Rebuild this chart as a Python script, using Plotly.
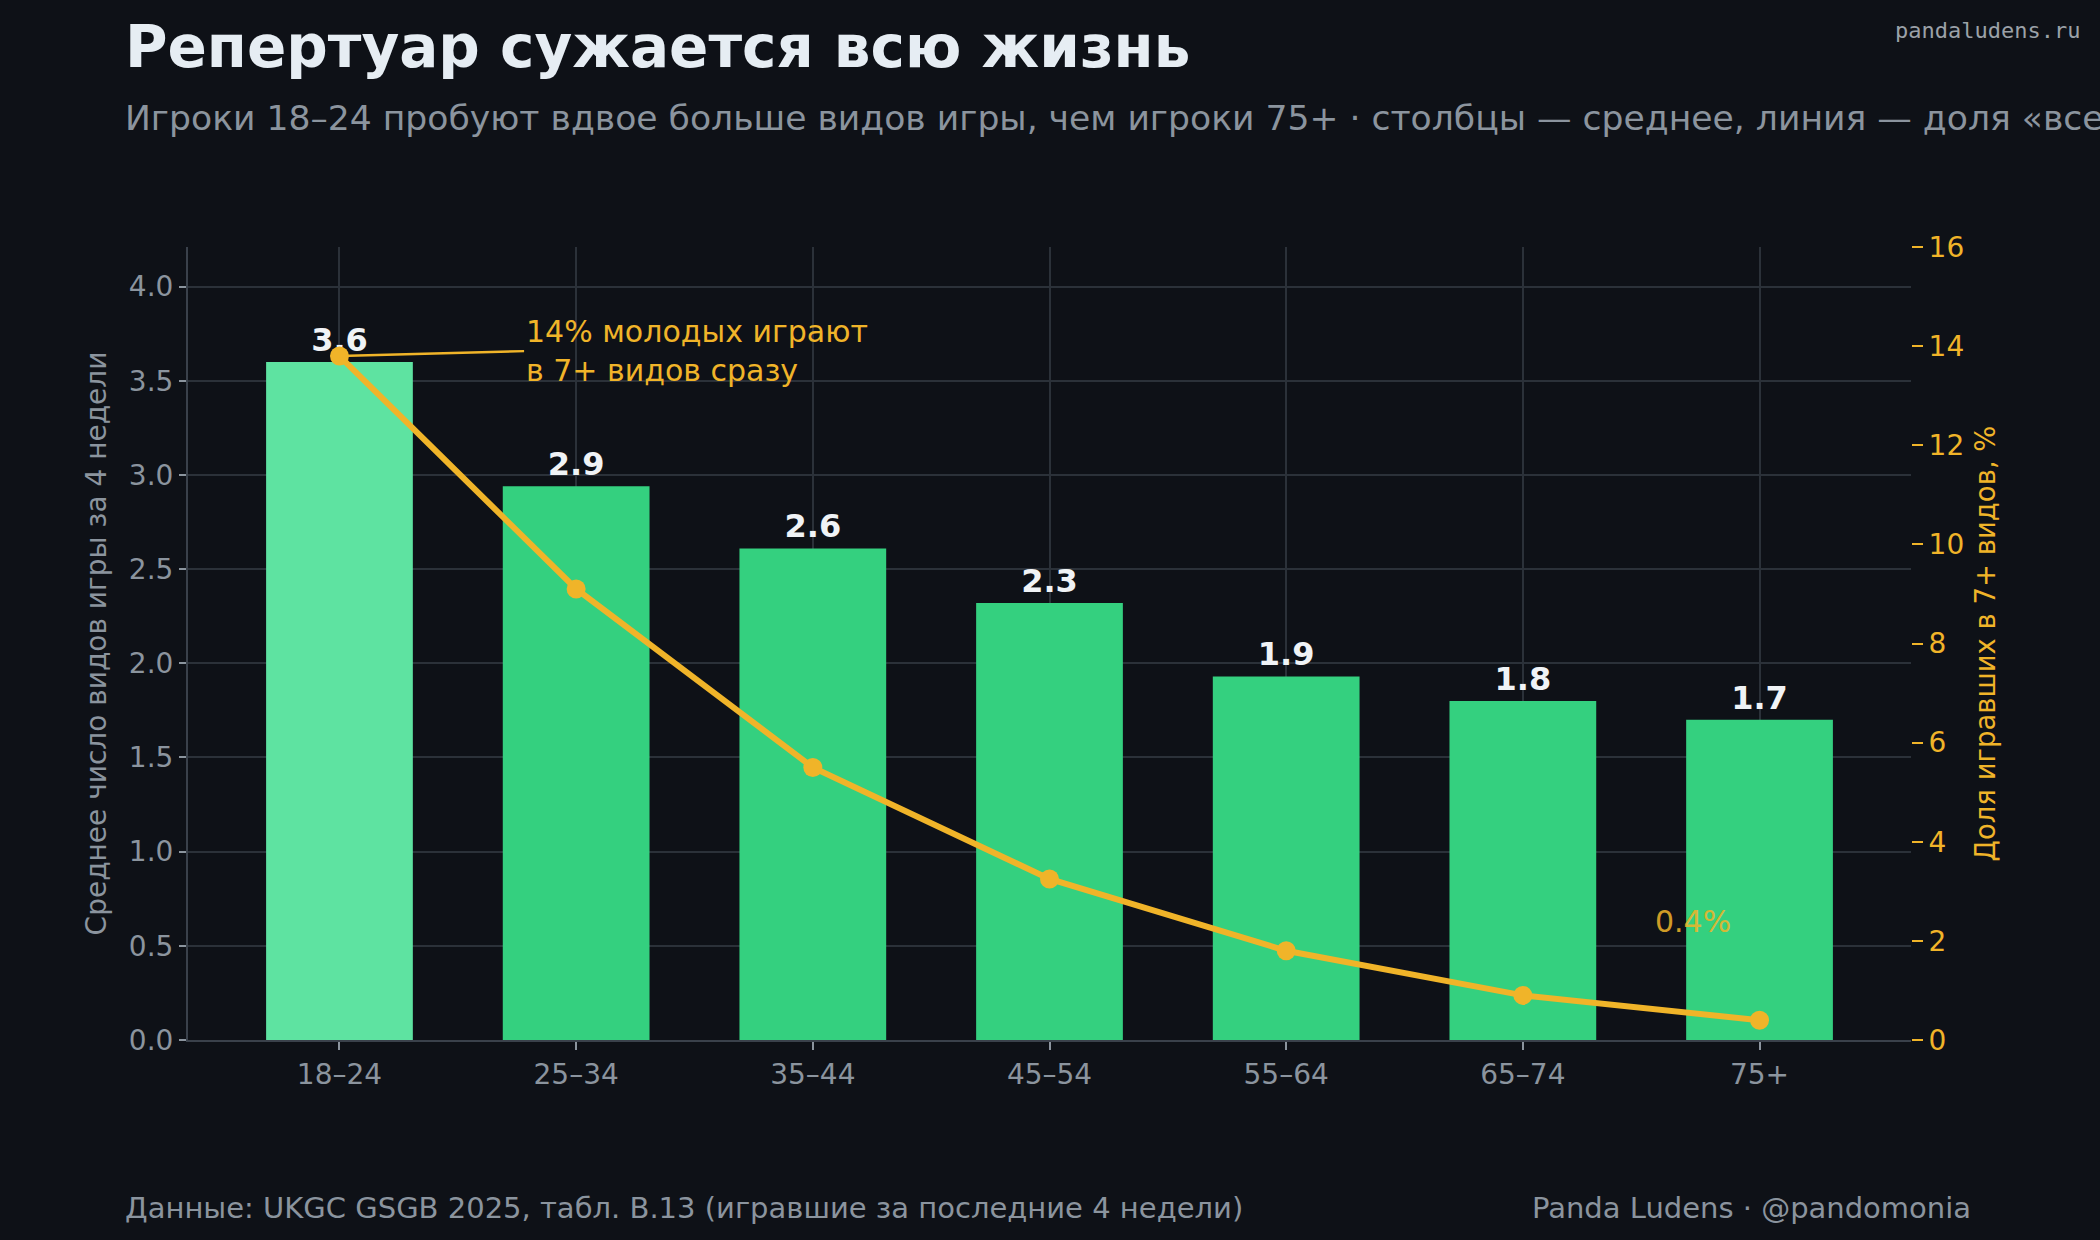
import plotly.graph_objects as go

# UKGC GSGB 2025, table B.13 — players in the last 4 weeks
age_groups = ["18–24", "25–34", "35–44", "45–54", "55–64", "65–74", "75+"]
avg_types = [3.60, 2.94, 2.61, 2.32, 1.93, 1.80, 1.70]
share_7plus = [13.8, 9.1, 5.5, 3.25, 1.8, 0.9, 0.4]

BG = "#0e1117"
GRID = "#2b3139"
AXIS = "#3a414b"
MUTED = "#8b949e"
GOLD = "#f0b429"
GREEN = "#34d07f"
GREEN_HI = "#5ee3a1"
FONT = "DejaVu Sans"

W, H = 2100, 1240
L, R, T, B = 188, 189, 247, 200


def px_x(px):
    return (px - L) / (W - L - R)


def px_y(py):
    return 1 - (py - T) / (H - T - B)


bar_colors = [GREEN_HI] + [GREEN] * (len(age_groups) - 1)

fig = go.Figure()

fig.add_trace(go.Bar(
    x=age_groups, y=avg_types,
    marker=dict(color=bar_colors, line=dict(width=0)),
    width=0.62,
    texttemplate="%{y:.1f}",
    textposition="outside",
    textfont=dict(family=FONT, size=32, color="#f0f3f6", weight="bold"),
    cliponaxis=False,
    showlegend=False,
    hoverinfo="skip",
))

fig.add_trace(go.Scatter(
    x=age_groups, y=share_7plus, yaxis="y2",
    mode="lines+markers",
    line=dict(color=GOLD, width=6),
    marker=dict(color=GOLD, size=19),
    cliponaxis=False,
    showlegend=False,
    hoverinfo="skip",
))

annotations = [
    dict(text="<b>Репертуар сужается всю жизнь</b>", x=px_x(123), y=px_y(47),
         xref="paper", yref="paper", xanchor="left", yanchor="middle", showarrow=False,
         font=dict(family=FONT, size=58, color="#e6edf3")),
    dict(text="Игроки 18–24 пробуют вдвое больше видов игры, чем игроки 75+ · "
              "столбцы — среднее, линия — доля «всеядных» (7+ видов)",
         x=px_x(123), y=px_y(118), xref="paper", yref="paper",
         xanchor="left", yanchor="middle", showarrow=False,
         font=dict(family=FONT, size=34.6, color=MUTED)),
    dict(text="pandaludens.ru", x=px_x(2082), y=px_y(30), xref="paper", yref="paper",
         xanchor="right", yanchor="middle", showarrow=False,
         font=dict(family="DejaVu Sans Mono", size=22, color="#9ba1a8")),
    dict(text="Данные: UKGC GSGB 2025, табл. B.13 (игравшие за последние 4 недели)",
         x=px_x(123), y=px_y(1208), xref="paper", yref="paper",
         xanchor="left", yanchor="middle", showarrow=False,
         font=dict(family=FONT, size=29, color=MUTED)),
    dict(text="Panda Ludens · @pandomonia", x=px_x(1973), y=px_y(1208),
         xref="paper", yref="paper", xanchor="right", yanchor="middle", showarrow=False,
         font=dict(family=FONT, size=29, color=MUTED)),
    # callout for the youngest group
    dict(text="14% молодых играют<br>в 7+ видов сразу",
         x=age_groups[0], y=share_7plus[0], xref="x", yref="y2",
         ax=0.78, ay=share_7plus[0] + 0.1, axref="x", ayref="y2",
         showarrow=True, arrowhead=0, arrowwidth=2.4, arrowcolor=GOLD,
         xanchor="left", yanchor="middle", align="left",
         font=dict(family=FONT, size=30, color=GOLD)),
    dict(text="0.4%", x=age_groups[-1], y=share_7plus[-1], xref="x", yref="y2",
         xshift=-67, yshift=99, showarrow=False, opacity=0.85,
         font=dict(family=FONT, size=30, color=GOLD)),
]

fig.update_layout(
    width=W, height=H,
    paper_bgcolor=BG, plot_bgcolor=BG,
    margin=dict(l=L, r=R, t=T, b=B),
    font=dict(family=FONT, color=MUTED),
    annotations=annotations,
    xaxis=dict(
        range=[-0.64, 6.64],
        showgrid=True, gridcolor=GRID, gridwidth=1.5,
        showline=True, linecolor=AXIS, linewidth=2,
        ticks="outside", ticklen=8, tickwidth=1.5, tickcolor=MUTED,
        tickfont=dict(family=FONT, size=28, color=MUTED),
        zeroline=False,
    ),
    yaxis=dict(
        range=[0, 4.21], dtick=0.5, tickformat=".1f",
        showgrid=True, gridcolor=GRID, gridwidth=1.5,
        showline=True, linecolor=AXIS, linewidth=2,
        ticks="outside", ticklen=7, tickwidth=1.5, tickcolor=MUTED,
        tickfont=dict(family=FONT, size=28, color=MUTED),
        zeroline=False,
        title=dict(text="Среднее число видов игры за 4 недели", standoff=14,
                   font=dict(family=FONT, size=28, color=MUTED)),
    ),
    yaxis2=dict(
        overlaying="y", side="right",
        range=[0, 16], dtick=2,
        showgrid=False, showline=False, zeroline=False,
        ticks="outside", ticklen=11, tickwidth=1.5, tickcolor=GOLD,
        tickfont=dict(family=FONT, size=28, color=GOLD),
        title=dict(text="Доля игравших в 7+ видов, %", standoff=12,
                   font=dict(family=FONT, size=27.5, color=GOLD)),
    ),
)

# drop the default page margin so the chart sits flush in the window
fig.write_html("out.html", config={"displayModeBar": False},
               post_script="document.body.style.margin='0';")
